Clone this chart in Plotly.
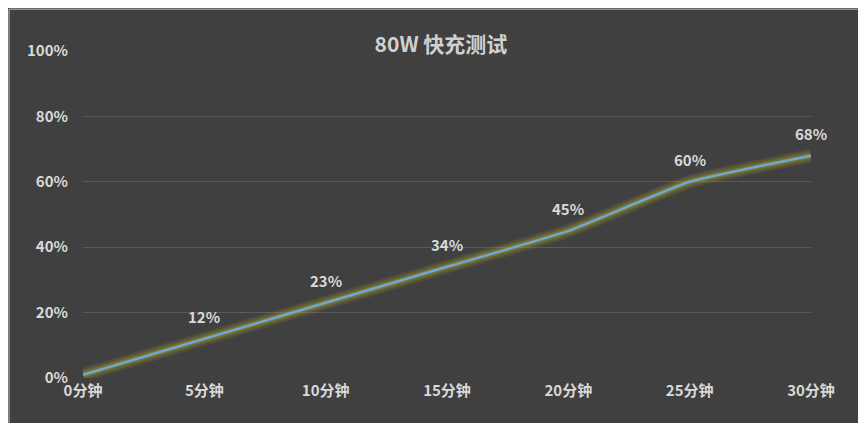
import plotly.graph_objects as go

times = ['0分钟', '5分钟', '10分钟', '15分钟', '20分钟', '25分钟', '30分钟']
charge = [1, 12, 23, 34, 45, 60, 68]
labels = ['', '12%', '23%', '34%', '45%', '60%', '68%']

FONT = 'Noto Sans CJK SC'
xs = list(range(len(times)))

fig = go.Figure()

# yellow glow under the line
for w, a in [(14, 0.12), (10, 0.18), (6, 0.3)]:
    fig.add_trace(go.Scatter(
        x=xs, y=charge, mode='lines', hoverinfo='skip',
        line=dict(color=f'rgba(175,165,40,{a})', width=w, shape='spline', smoothing=0.4),
    ))

fig.add_trace(go.Scatter(
    x=xs, y=charge, mode='lines',
    line=dict(color='#6fa8d0', width=2.5, shape='spline', smoothing=0.4),
))

for x, y, t in zip(xs, charge, labels):
    if t:
        fig.add_annotation(x=x, y=y, text=f'<b>{t}</b>', showarrow=False, yshift=22,
                           font=dict(size=15, color='#d9d9d9', family=FONT))

fig.update_layout(
    width=866, height=423,
    paper_bgcolor='#404040', plot_bgcolor='#404040',
    showlegend=False,
    margin=dict(l=75, r=63, t=43, b=53),
    title=dict(text='<b>80W 快充测试</b>', x=0.5, xanchor='center', y=0.93,
               font=dict(size=21, color='#d0d0d0', family=FONT)),
    font=dict(family=FONT, color='#d9d9d9'),
    xaxis=dict(range=[0, 6], tickvals=xs, ticktext=[f'<b>{t}</b>' for t in times],
               showgrid=False, zeroline=False, showline=False,
               tickfont=dict(size=15, color='#d9d9d9'), ticklabelstandoff=2),
    yaxis=dict(range=[0, 100], tickvals=[0, 20, 40, 60, 80, 100],
               ticktext=[f'<b>{v}%</b>' for v in [0, 20, 40, 60, 80, 100]],
               gridcolor='#5a5a5a', zeroline=False, showline=False,
               tickfont=dict(size=15, color='#d9d9d9'), ticklabelstandoff=14),
)
fig.add_shape(type='rect', xref='paper', yref='paper', x0=-0.1016, x1=1.0845, y0=-0.159, y1=1.128,
              line=dict(color='#bfbfbf', width=1))

fig.write_html('out.html')
